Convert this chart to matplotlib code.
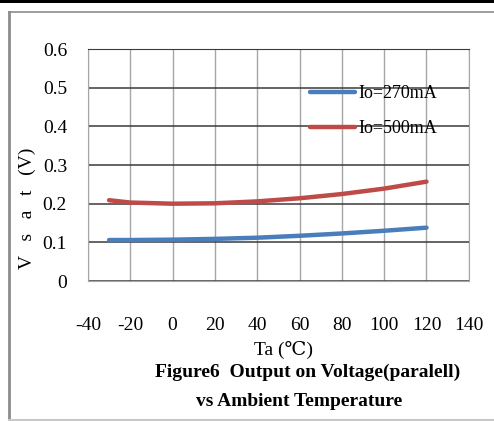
import matplotlib
matplotlib.use("Agg")
import matplotlib.pyplot as plt
from matplotlib.lines import Line2D
from matplotlib.patches import Rectangle

plt.rcParams['font.family'] = ['Liberation Serif', 'DejaVu Serif']

# Saturation voltage vs ambient temperature
temp = [-30, -20, 0, 20, 40, 60, 80, 100, 120]
vsat_270 = [0.106, 0.106, 0.107, 0.109, 0.112, 0.117, 0.123, 0.130, 0.138]
vsat_500 = [0.209, 0.203, 0.200, 0.201, 0.206, 0.214, 0.225, 0.239, 0.257]
labels = ["Io=270mA", "Io=500mA"]
xticks = list(range(-40, 141, 20))
yticks = [0, 0.1, 0.2, 0.3, 0.4, 0.5, 0.6]

BLUE = "#4a7ebb"
RED = "#be4b48"

fig = plt.figure(figsize=(4.94, 4.21), dpi=100)
ax = fig.add_axes([0.178, 0.3325, 0.771, 0.551])

ax.plot(temp, vsat_270, color=BLUE, lw=3.2, solid_capstyle="round", label=labels[0], zorder=3)
ax.plot(temp, vsat_500, color=RED, lw=3.2, solid_capstyle="round", label=labels[1], zorder=3)

ax.set_xlim(-40, 140)
ax.set_ylim(0, 0.6)
ax.set_xticks(xticks)
ax.set_xticklabels([str(v) for v in xticks])  # plain hyphen for negatives
ax.set_yticks(yticks)
ax.set_yticklabels(["0" if v == 0 else f"{v:.1f}" for v in yticks])
ax.tick_params(length=0, labelsize=14)
ax.tick_params(axis="x", pad=26)
ax.tick_params(axis="y", pad=15)

# dark horizontal grid, light vertical grid
ax.grid(axis="y", color="#3a3a3a", lw=1.1)
ax.grid(axis="x", color="#a6a6a6", lw=1.0)
ax.set_axisbelow(True)
for side in ["left", "right", "bottom"]:
    ax.spines[side].set_color("#a6a6a6")
ax.spines["top"].set_color("#3a3a3a")

leg = ax.legend(loc="upper left", bbox_to_anchor=(0.565, 0.875), frameon=False,
                fontsize=13, handlelength=2.5, handletextpad=0.15,
                labelspacing=1.0, borderaxespad=0)

fig.text(27 / 494, 1 - 208 / 421, "V   s   a   t   (V)", rotation=90,
         ha="center", va="center", fontsize=14)
fig.text(0.573, 0.168, "Ta (℃)", ha="center", va="center", fontsize=14)
fig.text(0.622, 0.116, "Figure6  Output on Voltage(paralell)", ha="center",
         va="center", fontsize=14, fontweight="bold")
fig.text(0.605, 0.046, "vs Ambient Temperature", ha="center",
         va="center", fontsize=14, fontweight="bold")

# outer frame
fig.add_artist(Rectangle((0, 1 - 3 / 421), 1, 3 / 421, transform=fig.transFigure,
                         facecolor="black", edgecolor="none"))
fig.add_artist(Line2D([9 / 494, 9 / 494], [2 / 421, 1 - 12 / 421],
                      transform=fig.transFigure, color="#8c8c8c", lw=2))
fig.add_artist(Line2D([9 / 494, 1], [1 - 12 / 421, 1 - 12 / 421],
                      transform=fig.transFigure, color="#8c8c8c", lw=1.2))
fig.add_artist(Line2D([9 / 494, 1], [1.5 / 421, 1.5 / 421],
                      transform=fig.transFigure, color="#c8c8c8", lw=1.5))

fig.savefig("out.png", dpi=100)
